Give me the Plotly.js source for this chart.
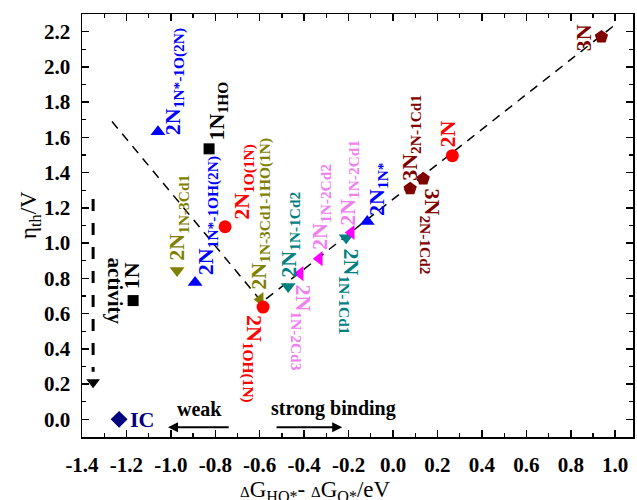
<!DOCTYPE html>
<html>
<head>
<meta charset="utf-8">
<script src="https://cdn.plot.ly/plotly-3.0.1.min.js"></script>
<style>html,body{margin:0;padding:0;background:#fff;}#chart{width:637px;height:500px;}</style>
</head>
<body>
<div id="chart"></div>
<script>
// ---- data ----
const pointLabels = [
  'IC', '1N', '1N<sub>1HO</sub>', '2N<sub>1N*-1O(2N)</sub>', '2N<sub>1N*-1OH(2N)</sub>',
  '2N<sub>1N-3Cd1</sub>', '2N<sub>1O(1N)</sub>', '2N<sub>1N-3Cd1-1HO(1N)</sub>', '2N<sub>1OH(1N)</sub>',
  '2N<sub>1N-1Cd2</sub>', '2N<sub>1N-2Cd3</sub>', '2N<sub>1N-2Cd2</sub>', '2N<sub>1N-1Cd1</sub>',
  '2N<sub>1N-2Cd1</sub>', '2N<sub>1N*</sub>', '3N<sub>2N-1Cd1</sub>', '3N<sub>2N-1Cd2</sub>', '2N', '3N'
];
const deltaG = [-1.233, -1.170, -0.828, -1.058, -0.891, -0.972, -0.756, -0.598, -0.585,
                -0.472, -0.418, -0.332, -0.211, -0.188, -0.116, 0.077, 0.136, 0.267, 0.938];
const etaTh  = [0.000, 0.674, 1.535, 1.632, 0.776, 0.844, 1.093, 0.680, 0.637,
                0.754, 0.827, 0.912, 1.031, 1.060, 1.122, 1.309, 1.365, 1.496, 2.170];
const volcanoX = [-1.265, -0.590, 0.990];
const volcanoY = [1.690, 0.665, 2.230];
const activityX = [-1.35, -1.35];
const activityY = [1.25, 0.27];
const xTickVals = [-1.4, -1.2, -1.0, -0.8, -0.6, -0.4, -0.2, 0.0, 0.2, 0.4, 0.6, 0.8, 1.0];
const xTickText = ['-1.4', '-1.2', '-1.0', '-0.8', '-0.6', '-0.4', '-0.2', '0.0', '0.2', '0.4', '0.6', '0.8', '1.0'];

// ---- styles ----
const C = {navy:'#000080', black:'#000000', blue:'#0000FF', olive:'#808000', red:'#FF0000',
           teal:'#008080', mag:'#FF00FF', vio:'#F080F0', maroon:'#800000'};
const markerColor = [C.navy, C.black, C.black, C.blue, C.blue, C.olive, C.red, C.olive, C.red,
                     C.teal, C.mag, C.mag, C.teal, C.mag, C.blue, C.maroon, C.maroon, C.red, C.maroon];
const labelColor  = [C.navy, C.black, C.black, C.blue, C.blue, C.olive, C.red, C.olive, C.red,
                     C.teal, C.vio, C.vio, C.teal, C.vio, C.blue, C.maroon, C.maroon, C.red, C.maroon];
const markerSymbol = ['diamond', 'square', 'square', 'triangle-up', 'triangle-up', 'triangle-down',
                      'circle', 'triangle-left', 'circle', 'triangle-down', 'triangle-left', 'triangle-left',
                      'triangle-down', 'triangle-left', 'triangle-up', 'pentagon', 'pentagon', 'circle', 'pentagon'];
const markerSize = [13, 11, 11, 13, 13, 13, 13, 13, 13, 13, 13, 13, 13, 13, 13, 14, 14, 13, 14];
// label placement: [angle, xanchor, yanchor, xshift, yshift]
const place = [
  [0, 'left', 'middle', 9, 0],
  [-90, 'center', 'bottom', -2, 9],
  [-90, 'center', 'bottom', 9, 6],
  [-90, 'center', 'bottom', 16, -5],
  [-90, 'center', 'bottom', 12, 5],
  [-90, 'center', 'bottom', 1, 8],
  [-90, 'center', 'bottom', 19, 5],
  [-90, 'center', 'bottom', 0, 8],
  [90, 'center', 'top', -10, -6],
  [-90, 'center', 'bottom', 2, 7],
  [90, 'center', 'top', 2, -9],
  [-90, 'center', 'bottom', 1, 7],
  [90, 'center', 'top', 4, -9],
  [-90, 'center', 'bottom', -3, 5],
  [-90, 'center', 'bottom', 10, 4],
  [-90, 'center', 'bottom', 0, 6],
  [90, 'center', 'top', 8, -8],
  [-90, 'center', 'bottom', -5, 6],
  [-90, 'center', 'middle', -18, -1]
];

const FONT = 'Liberation Serif, Times New Roman, serif';

const traces = [
  {x: volcanoX, y: volcanoY, mode: 'lines', type: 'scatter', hoverinfo: 'skip',
   line: {color: '#000', width: 1.5, dash: '9px,7px'}},
  {x: activityX, y: activityY, mode: 'lines', type: 'scatter', hoverinfo: 'skip',
   line: {color: '#000', width: 3, dash: '12px,12px'}},
  {x: [activityX[1]], y: [activityY[1] - 0.06], mode: 'markers', type: 'scatter', hoverinfo: 'skip',
   marker: {symbol: 'triangle-down', size: 12, color: '#000', opacity: 1}},
  {x: deltaG, y: etaTh, mode: 'markers', type: 'scatter', cliponaxis: false,
   marker: {symbol: markerSymbol, color: markerColor, size: markerSize, opacity: 1, line: {width: 0}}}
];

const annotations = pointLabels.map((t, i) => ({
  x: deltaG[i], y: etaTh[i], xref: 'x', yref: 'y', text: t, showarrow: false,
  textangle: place[i][0], xanchor: place[i][1], yanchor: place[i][2],
  xshift: place[i][3], yshift: place[i][4],
  font: {family: FONT, size: 22, color: labelColor[i], weight: 'bold'}
}));

annotations.push(
  {x: activityX[0], y: 0.73, xref: 'x', yref: 'y', text: 'activity', showarrow: false,
   textangle: 90, xshift: 22, font: {family: FONT, size: 21, color: '#000', weight: 'bold'}},
  {x: -0.87, y: 0.06, xref: 'x', yref: 'y', text: 'weak', showarrow: false,
   font: {family: FONT, size: 20, color: '#000', weight: 'bold'}},
  {x: -0.27, y: 0.06, xref: 'x', yref: 'y', text: 'strong binding', showarrow: false,
   font: {family: FONT, size: 20, color: '#000', weight: 'bold'}},
  {x: -1.013, y: -0.045, ax: -0.733, ay: -0.045, xref: 'x', yref: 'y', axref: 'x', ayref: 'y',
   text: '', showarrow: true, arrowhead: 2, arrowsize: 1, arrowwidth: 2, arrowcolor: '#000'},
  {x: -0.229, y: -0.045, ax: -0.531, ay: -0.045, xref: 'x', yref: 'y', axref: 'x', ayref: 'y',
   text: '', showarrow: true, arrowhead: 2, arrowsize: 1, arrowwidth: 2, arrowcolor: '#000'},
  {x: 0, y: 0.525, xref: 'paper', yref: 'paper', xshift: -52, text: 'η<sub>th</sub>/V',
   textangle: -90, showarrow: false, xanchor: 'center', yanchor: 'middle',
   font: {family: FONT, size: 23, color: '#000'}},
  {x: 0.423, y: -0.09, xref: 'paper', yref: 'paper', yanchor: 'top', xanchor: 'center',
   text: '<span style="font-size:15px">Δ</span>G<sub>HO*</sub>- <span style="font-size:15px">Δ</span>G<sub>O*</sub>/eV',
   showarrow: false, font: {family: FONT, size: 23, color: '#000'}}
);

const axisCommon = {
  showline: true, linecolor: '#000', linewidth: 1.5, mirror: 'ticks',
  ticks: 'inside', ticklen: 7, tickwidth: 1.5, tickcolor: '#000',
  showgrid: false, zeroline: false,
  tickfont: {family: FONT, size: 21, color: '#000', weight: 'bold'},
  minor: {dtick: 0.1, ticks: 'inside', ticklen: 4, tickwidth: 1.2, tickcolor: '#000', showgrid: false}
};

const layout = {
  width: 637, height: 500,
  margin: {l: 82, r: 4, t: 14, b: 63},
  paper_bgcolor: '#fff', plot_bgcolor: '#fff',
  showlegend: false,
  xaxis: Object.assign({}, axisCommon, {range: [-1.4, 1.08], tickvals: xTickVals, ticktext: xTickText,
    ticklabelstandoff: 8}),
  yaxis: Object.assign({}, axisCommon, {range: [-0.1, 2.3], dtick: 0.2, tick0: 0, tickformat: '.1f',
    ticklabelstandoff: 6}),
  annotations: annotations
};

Plotly.newPlot('chart', traces, layout, {staticPlot: true, displayModeBar: false});
</script>
</body>
</html>
